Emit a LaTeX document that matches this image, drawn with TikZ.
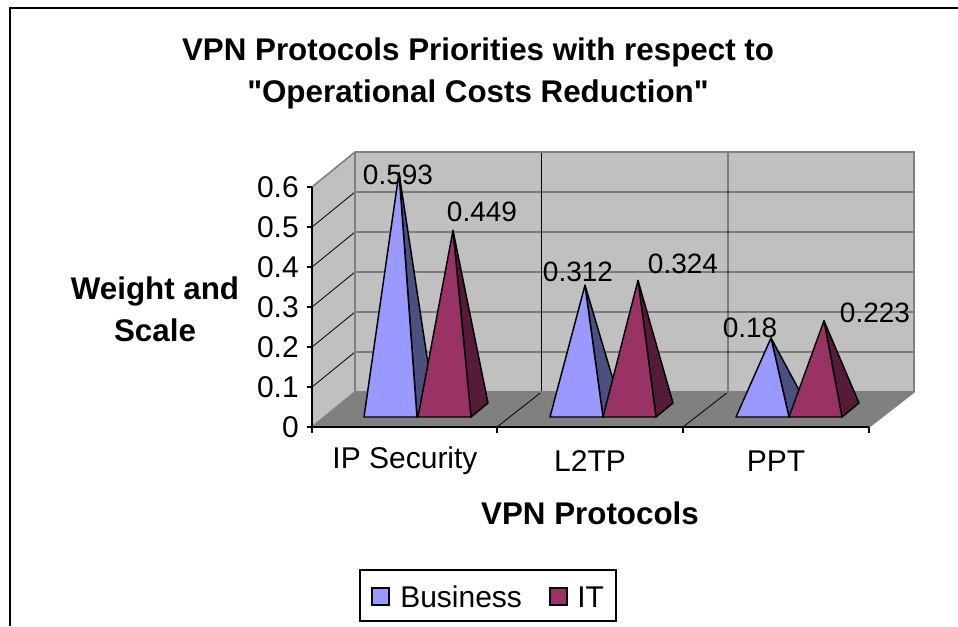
\documentclass[tikz,border=0pt]{standalone}
\usepackage{fontspec}
\setmainfont{Liberation Sans}[Ligatures=TeXOff]
\definecolor{bizfront}{HTML}{9999FF}
\definecolor{bizside}{HTML}{4D4F80}
\definecolor{itfront}{HTML}{993366}
\definecolor{itside}{HTML}{551B38}
\definecolor{wallgrey}{HTML}{C0C0C0}
\definecolor{floorgrey}{HTML}{808080}
\definecolor{edgegrey}{HTML}{808080}

% one pyramid: front-left base x, value, front colour, side colour
\newcommand\drawpyramid[4]{%
  \pgfmathsetmacro\apx{#1+35}%
  \pgfmathsetmacro\apy{410-400*#2}%
  \filldraw[pyr, fill=#4] (#1+53,417) -- (#1+70,403) -- (\apx,\apy) -- cycle;
  \filldraw[pyr, fill=#3] (#1,417) -- (#1+53,417) -- (\apx,\apy) -- cycle;
}

\tikzset{
  pyr/.style={draw=black, line width=1.1pt, line join=round},
  wallline/.style={draw=edgegrey, line width=1.2pt},
  gridline/.style={draw=black, line width=0.6pt},
  axisline/.style={draw=black, line width=0.8pt},
  ticklab/.style={font=\fontsize{22.5}{26}\selectfont, inner sep=0pt},
  datalab/.style={font=\fontsize{21}{25}\selectfont, inner sep=0pt},
  boldlab/.style={font=\fontsize{23.5}{31.5}\selectfont\bfseries, inner sep=0pt, align=center},
}

\begin{document}
\begin{tikzpicture}[x=0.75pt, y=-0.75pt]
\useasboundingbox (0,0) rectangle (958,626);
\fill[white] (0,0) rectangle (958,626);

% chart frame
\draw[black, line width=1.6pt] (10,626) -- (10,8) -- (958,8);

% title
\node[boldlab] (title) at (478,73) {VPN Protocols Priorities with respect to\\"Operational Costs Reduction"};

% walls and floor
\fill[wallgrey] (312,427) -- (312,187) -- (355,152) -- (355,392) -- cycle;
\fill[wallgrey] (355,152) rectangle (914,392);
\fill[floorgrey] (312,427) -- (869,427) -- (914,392) -- (355,392) -- cycle;

% grid lines
\foreach \k in {1,...,5} {
  \draw[gridline] (312,427-40*\k) -- (355,392-40*\k) -- (914,392-40*\k);
}
\draw[gridline] (541.5,152) -- (541.5,392) -- (497,427);
\draw[gridline] (728,152) -- (728,392) -- (683,427);

% wall outlines
\draw[wallline] (312,187) -- (355,152) -- (914,152) -- (914,392) -- (869,427);
\draw[wallline] (355,152) -- (355,392) -- (914,392);
\draw[wallline] (312,427) -- (355,392);

% axes
\draw[axisline] (312,187) -- (312,427) -- (869,427);
\foreach \k in {0,...,6} {
  \draw[axisline] (307,427-40*\k) -- (312,427-40*\k);
}
\foreach \xx in {312,497,683,869} {
  \draw[axisline] (\xx,427) -- (\xx,433);
}

% value axis labels
\foreach \k/\t in {0/0,1/0.1,2/0.2,3/0.3,4/0.4,5/0.5,6/0.6} {
  \node[ticklab, anchor=east] (ytick\k) at (299,427-40*\k) {\t};
}

% category labels
\node[ticklab] (catip) at (405,461) {IP Security};
\node[ticklab] (catl2) at (590,461) {L2TP};
\node[ticklab] (catpp) at (776,461) {PPT};

% axis titles
\node[boldlab] (ytitle) at (155,309) {Weight and\\Scale};
\node[boldlab] (xtitle) at (590,513) {VPN Protocols};

% pyramids
\drawpyramid{364}{0.593}{bizfront}{bizside}
\drawpyramid{418}{0.449}{itfront}{itside}
\drawpyramid{550}{0.312}{bizfront}{bizside}
\drawpyramid{603}{0.324}{itfront}{itside}
\drawpyramid{736}{0.18}{bizfront}{bizside}
\drawpyramid{789}{0.223}{itfront}{itside}

% data labels
\node[datalab] (v1) at (398,175) {0.593};
\node[datalab] (v2) at (482,212) {0.449};
\node[datalab] (v3) at (578,272) {0.312};
\node[datalab] (v4) at (683,264) {0.324};
\node[datalab] (v5) at (750,328) {0.18};
\node[datalab] (v6) at (875,313) {0.223};

% legend
\draw[black, line width=0.9pt, fill=white] (360,570) rectangle (616,621);
\filldraw[draw=black, line width=1pt, fill=bizfront] (372,588) rectangle (389,605);
\filldraw[draw=black, line width=1pt, fill=itfront] (550,588) rectangle (567,605);
\node[ticklab, anchor=west] (legbiz) at (400,597) {Business};
\node[ticklab, anchor=west] (legit) at (577,597) {IT};
\end{tikzpicture}
\end{document}
